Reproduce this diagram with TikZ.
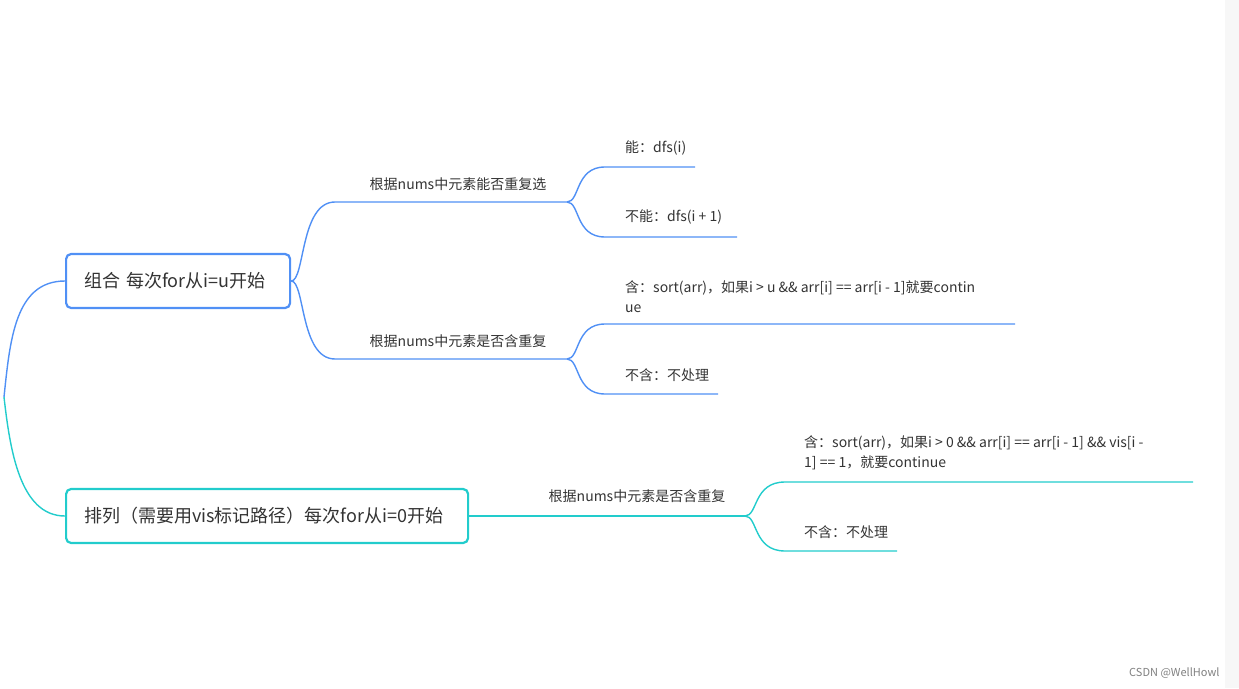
\documentclass[tikz,border=0pt]{standalone}
\usepackage{fontspec}
\setmainfont{Noto Sans CJK SC}
\usetikzlibrary{positioning}
\definecolor{branchblue}{HTML}{5090F5}
\definecolor{branchcyan}{HTML}{22CCCC}
\definecolor{txtgrey}{HTML}{333333}
\tikzset{
	topic/.style 2 args={draw=#1,line width=2.2pt,rounded corners=5pt,inner xsep=18pt,minimum height=54pt,
		text=txtgrey,font=\fontsize{18}{20}\selectfont,text width=#2,align=left},
	leaf/.style={anchor=south west,inner sep=0pt,text=txtgrey,font=\fontsize{14}{20}\selectfont,align=left},
	ask/.style={anchor=south,inner sep=0pt,text=txtgrey,font=\fontsize{14}{15}\selectfont},
	wire/.style={line width=1.4pt,#1}
}
\begin{document}
\begin{tikzpicture}[x=1pt,y=-1pt]
	\useasboundingbox (0,0) rectangle (1239,688);
	\fill[gray!6] (1225,0) rectangle (1239,688);
	
	\coordinate (root) at (4,397);
	\node[topic={branchblue}{188pt},anchor=west] (comb) at (65,281) {组合 每次for从i=u开始};
	\node[topic={branchcyan}{366pt},anchor=west] (perm) at (65,516) {排列（需要用vis标记路径）每次for从i=0开始};
	\draw[wire=branchblue] (root) .. controls (10,340) and (15,281) .. (comb.west);
	\draw[wire=branchcyan] (root) .. controls (10,450) and (20,516) .. (perm.west);
	
	% 组合
	\coordinate (c1) at (567,202);
	\coordinate (c2) at (567,359);
	\draw[wire=branchblue] (comb.east) .. controls (305,281) and (300,202) .. (335,202) -- (c1);
	\draw[wire=branchblue] (comb.east) .. controls (305,281) and (300,359) .. (335,359) -- (c2);
	\node[ask] (q1) at (458,191) {根据nums中元素能否重复选};
	\node[ask] (q2) at (458,348) {根据nums中元素是否含重复};
	
	\coordinate (e1) at (695,167);
	\coordinate (e2) at (737,237);
	\coordinate (e3) at (1015,324);
	\coordinate (e4) at (718,394);
	\draw[wire=branchblue] (c1) .. controls (580,202) and (575,167) .. (605,167) -- (e1);
	\draw[wire=branchblue] (c1) .. controls (580,202) and (575,237) .. (605,237) -- (e2);
	\draw[wire=branchblue] (c2) .. controls (580,359) and (575,324) .. (605,324) -- (e3);
	\draw[wire=branchblue] (c2) .. controls (580,359) and (575,394) .. (605,394) -- (e4);
	\node[leaf] (a1) at (625,155) {能：dfs(i)};
	\node[leaf] (a2) at (625,224) {不能：dfs(i + 1)};
	\node[leaf] (a3) at (625,313) {含：sort(arr)，如果i > u \&\& arr[i] == arr[i - 1]就要contin\\ue};
	\node[leaf] (a4) at (625,382) {不含：不处理};
	
	% 排列
	\coordinate (p1) at (745,516);
	\draw[wire=branchcyan] (perm.east) -- (p1);
	\node[ask] (q3) at (637,503) {根据nums中元素是否含重复};
	\coordinate (e5) at (1193,482);
	\coordinate (e6) at (897,551);
	\draw[wire=branchcyan] (p1) .. controls (758,516) and (753,482) .. (785,482) -- (e5);
	\draw[wire=branchcyan] (p1) .. controls (758,516) and (753,551) .. (785,551) -- (e6);
	\node[leaf] (a5) at (804,470) {含：sort(arr)，如果i > 0 \&\& arr[i] == arr[i - 1] \&\& vis[i -\\1] == 1，就要continue};
	\node[leaf] (a6) at (804,539) {不含：不处理};
	
	\node[anchor=east,text=gray,font=\fontsize{11}{12}\selectfont] (mark) at (1223,673) {CSDN @WellHowl};
\end{tikzpicture}
\end{document}
